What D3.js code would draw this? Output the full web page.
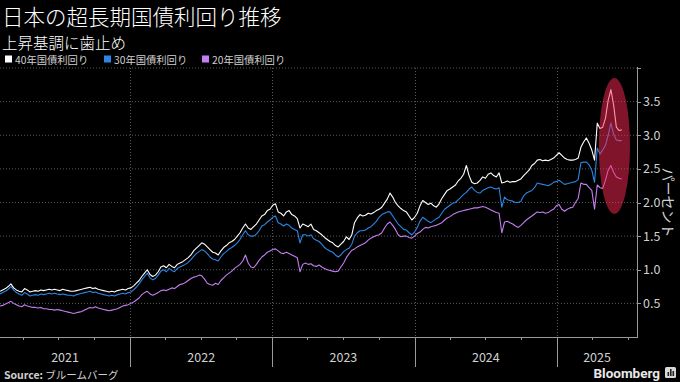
<!DOCTYPE html>
<html><head><meta charset="utf-8">
<script src="https://cdn.jsdelivr.net/npm/d3@7/dist/d3.min.js"></script>
<style>
body{margin:0;background:#000;}
svg{display:block;font-family:"Noto Sans CJK JP","Noto Sans",sans-serif;}
</style>
</head><body>
<svg id="chart" width="680" height="382"></svg>
<script>
// weekly observations starting 2021-02-01
const startDate = "2021-02-01";
const stepDays = 7;

const y40 = [
0.68,0.70,0.72,0.75,0.79,0.73,0.70,0.68,0.67,0.72,
0.70,0.67,0.68,0.69,0.68,0.70,0.69,0.70,0.71,0.70,
0.71,0.70,0.69,0.71,0.70,0.69,0.68,0.68,0.69,0.70,
0.71,0.72,0.73,0.74,0.72,0.73,0.71,0.70,0.69,0.68,
0.67,0.68,0.67,0.69,0.70,0.71,0.70,0.72,0.73,0.76,
0.80,0.84,0.90,0.95,1.00,0.93,0.90,0.92,0.97,1.04,
1.06,1.03,1.08,1.05,1.03,1.08,1.10,1.12,1.15,1.18,
1.22,1.28,1.32,1.36,1.40,1.38,1.34,1.30,1.26,1.25,
1.22,1.28,1.33,1.36,1.40,1.42,1.45,1.50,1.55,1.62,
1.68,1.62,1.60,1.64,1.68,1.74,1.80,1.82,1.88,1.90,
1.96,1.98,1.86,1.84,1.80,1.86,1.88,1.82,1.80,1.76,
1.62,1.68,1.66,1.64,1.68,1.60,1.58,1.55,1.52,1.48,
1.45,1.42,1.40,1.36,1.34,1.38,1.42,1.49,1.45,1.52,
1.70,1.77,1.82,1.80,1.81,1.84,1.83,1.85,1.88,1.90,
1.93,1.99,2.05,2.14,2.08,2.00,1.95,1.91,1.88,1.86,
1.80,1.74,1.78,1.84,1.95,2.03,2.00,1.97,1.99,1.95,
1.93,1.98,2.06,2.12,2.18,2.20,2.23,2.26,2.32,2.36,
2.42,2.55,2.40,2.30,2.28,2.29,2.33,2.38,2.36,2.42,
2.44,2.40,2.38,2.44,2.29,2.30,2.32,2.30,2.31,2.31,
2.33,2.35,2.40,2.44,2.48,2.55,2.58,2.63,2.64,2.62,
2.63,2.62,2.64,2.66,2.70,2.74,2.70,2.66,2.64,2.63,
2.63,2.64,2.66,2.82,2.90,2.96,2.88,2.78,2.63,3.18,
3.10,3.12,3.25,3.52,3.68,3.45,3.12,3.07,3.08
];

const y30 = [
0.64,0.66,0.68,0.71,0.75,0.70,0.66,0.64,0.62,0.66,
0.64,0.61,0.62,0.63,0.62,0.64,0.63,0.64,0.65,0.64,
0.65,0.64,0.63,0.64,0.63,0.62,0.62,0.61,0.63,0.64,
0.65,0.66,0.67,0.68,0.66,0.67,0.65,0.64,0.63,0.62,
0.61,0.62,0.61,0.63,0.64,0.65,0.64,0.66,0.67,0.70,
0.74,0.79,0.85,0.90,0.95,0.88,0.85,0.87,0.92,0.98,
1.00,0.97,1.02,0.99,0.97,1.02,1.04,1.06,1.08,1.11,
1.15,1.20,1.24,1.27,1.30,1.28,1.24,1.19,1.16,1.15,
1.13,1.19,1.24,1.27,1.31,1.33,1.36,1.40,1.45,1.52,
1.58,1.52,1.50,1.50,1.53,1.58,1.65,1.67,1.71,1.74,
1.78,1.80,1.70,1.68,1.65,1.68,1.66,1.62,1.60,1.58,
1.40,1.52,1.52,1.50,1.52,1.46,1.44,1.42,1.38,1.33,
1.30,1.28,1.26,1.22,1.19,1.22,1.27,1.30,1.32,1.38,
1.50,1.55,1.58,1.58,1.59,1.62,1.64,1.68,1.72,1.78,
1.82,1.84,1.86,1.86,1.80,1.74,1.68,1.64,1.60,1.59,
1.55,1.52,1.56,1.63,1.72,1.78,1.75,1.72,1.70,1.73,
1.76,1.78,1.84,1.90,1.93,1.96,1.99,2.00,2.04,2.08,
2.12,2.15,2.20,2.23,2.18,2.15,2.14,2.18,2.20,2.22,
2.23,2.21,2.20,2.22,1.93,2.08,2.04,2.03,2.02,2.00,
2.00,2.02,2.10,2.14,2.16,2.18,2.22,2.29,2.28,2.27,
2.26,2.25,2.27,2.30,2.31,2.33,2.30,2.27,2.28,2.29,
2.30,2.31,2.34,2.59,2.60,2.60,2.56,2.48,2.30,2.81,
2.72,2.78,2.85,3.00,3.18,3.02,2.93,2.92,2.92
];

const y20 = [
0.46,0.47,0.49,0.51,0.53,0.50,0.48,0.46,0.45,0.48,
0.46,0.45,0.44,0.44,0.43,0.44,0.42,0.42,0.41,0.41,
0.40,0.41,0.40,0.39,0.38,0.37,0.36,0.35,0.36,0.37,
0.38,0.40,0.42,0.44,0.43,0.45,0.43,0.42,0.41,0.40,
0.39,0.40,0.41,0.42,0.44,0.46,0.47,0.48,0.50,0.52,
0.55,0.58,0.63,0.66,0.68,0.64,0.62,0.64,0.66,0.69,
0.70,0.69,0.71,0.73,0.72,0.75,0.78,0.79,0.81,0.84,
0.87,0.89,0.90,0.92,0.91,0.86,0.80,0.78,0.77,0.80,
0.78,0.84,0.88,0.92,0.95,0.98,1.02,1.05,1.08,1.13,
1.22,1.10,1.04,1.03,1.08,1.14,1.19,1.22,1.26,1.28,
1.30,1.31,1.28,1.25,1.24,1.26,1.24,1.22,1.20,1.18,
0.97,1.08,1.10,1.08,1.09,1.06,1.05,1.07,1.04,1.02,
1.00,0.99,0.98,0.97,0.98,1.04,1.10,1.18,1.24,1.29,
1.31,1.34,1.36,1.38,1.40,1.44,1.47,1.49,1.51,1.52,
1.55,1.62,1.68,1.71,1.66,1.60,1.52,1.49,1.50,1.50,
1.48,1.47,1.50,1.54,1.56,1.60,1.63,1.62,1.64,1.65,
1.66,1.68,1.70,1.74,1.77,1.79,1.82,1.84,1.86,1.87,
1.88,1.89,1.90,1.91,1.92,1.92,1.93,1.94,1.93,1.91,
1.89,1.87,1.85,1.84,1.55,1.71,1.72,1.70,1.68,1.65,
1.63,1.66,1.70,1.74,1.77,1.80,1.83,1.86,1.85,1.86,
1.84,1.85,1.88,1.90,1.95,1.97,1.90,1.87,1.90,1.92,
1.93,2.00,2.06,2.29,2.27,2.27,2.22,2.18,1.90,2.26,
2.22,2.21,2.33,2.48,2.55,2.45,2.38,2.36,2.35
];

const seriesNames = ["40年国債利回り", "30年国債利回り", "20年国債利回り"];
const seriesColors = ["#ffffff", "#2b86e6", "#c47ef2"];
const yTicks = [0.5, 1.0, 1.5, 2.0, 2.5, 3.0, 3.5, 4.0];
const xDomain = ["2021-02-01", "2025-07-25"];
const titleText = "日本の超長期国債利回り推移";
const subtitleText = "上昇基調に歯止め";
const unitText = "パーセント";
const sourceLabel = "Source:";
const sourceText = " ブルームバーグ";
// highlight ellipse (annotation), in data terms
const highlightCenter = {date: "2025-05-28", value: 2.84};
const highlightHalf = {days: 40, value: 1.01};

const svg = d3.select("#chart");
const W = 680, H = 382;
svg.append("rect").attr("width", W).attr("height", H).attr("fill", "#000");

const plot = {left: 0, right: 637, top: 68, bottom: 337};
const parse = d3.timeParse("%Y-%m-%d");
const t0 = parse(startDate);
const dates = y40.map((_, i) => d3.timeDay.offset(t0, i * stepDays));

const x = d3.scaleTime().domain(xDomain.map(parse)).range([plot.left, plot.right]);
const y = d3.scaleLinear().domain([0, 4]).range([plot.bottom, plot.top]);

const txtCol = "#d0d0d0";

// titles
svg.append("text").attr("x", 2).attr("y", 24.6).attr("fill", "#fff")
  .attr("font-size", 21.5).attr("font-weight", 300).text(titleText);
svg.append("text").attr("x", 2).attr("y", 48.5).attr("fill", "#fff")
  .attr("font-size", 15.5).attr("font-weight", 300).text(subtitleText);

// legend
const legX = [5, 104, 202];
seriesNames.forEach((n, i) => {
  svg.append("rect").attr("x", legX[i]).attr("y", 55.5).attr("width", 7).attr("height", 7)
    .attr("fill", seriesColors[i]);
  svg.append("text").attr("x", legX[i] + 10).attr("y", 64).attr("fill", txtCol)
    .attr("font-size", 10.3).text(n);
});

// horizontal gridlines
svg.append("g").selectAll("line").data(yTicks).join("line")
  .attr("x1", plot.left).attr("x2", plot.right)
  .attr("y1", d => y(d)).attr("y2", d => y(d))
  .attr("stroke", "#5a5a5a").attr("stroke-width", 1).attr("stroke-dasharray", "1,2");

// vertical year gridlines
const years = d3.timeYear.range(x.domain()[0], x.domain()[1]).filter(d => d > x.domain()[0]);
svg.append("g").selectAll("line").data(years).join("line")
  .attr("x1", d => Math.round(x(d)) + 0.5).attr("x2", d => Math.round(x(d)) + 0.5)
  .attr("y1", plot.top).attr("y2", plot.bottom)
  .attr("stroke", "#5a5a5a").attr("stroke-width", 1).attr("stroke-dasharray", "1,2");

// lines
const series = [y20, y30, y40];
const cols = [seriesColors[2], seriesColors[1], seriesColors[0]];
series.forEach((s, k) => {
  const line = d3.line().x((d, i) => x(dates[i])).y(d => y(d));
  svg.append("path").datum(s).attr("d", line).attr("fill", "none")
    .attr("stroke", cols[k]).attr("stroke-width", 1.1).attr("stroke-linejoin", "round");
});

// highlight ellipse
const hc = parse(highlightCenter.date);
const ex = x(hc), ey = y(highlightCenter.value);
const erx = x(d3.timeDay.offset(hc, highlightHalf.days)) - ex;
const ery = y(highlightCenter.value - highlightHalf.value) - ey;
svg.append("ellipse").attr("cx", ex).attr("cy", ey).attr("rx", erx).attr("ry", ery)
  .attr("fill", "rgb(255,40,85)").attr("fill-opacity", 0.5);

// x axis
const axisCol = "#9a9a9a";
svg.append("line").attr("x1", plot.left).attr("x2", plot.right)
  .attr("y1", plot.bottom + 0.5).attr("y2", plot.bottom + 0.5).attr("stroke", axisCol);
const quarters = d3.timeMonth.every(3).range(x.domain()[0], x.domain()[1]);
svg.append("g").selectAll("line").data(quarters.filter(d => d.getMonth() !== 0)).join("line")
  .attr("x1", d => Math.round(x(d)) + 0.5).attr("x2", d => Math.round(x(d)) + 0.5)
  .attr("y1", plot.bottom).attr("y2", plot.bottom + 3).attr("stroke", axisCol);
svg.append("g").selectAll("line").data(years).join("line")
  .attr("x1", d => Math.round(x(d)) + 0.5).attr("x2", d => Math.round(x(d)) + 0.5)
  .attr("y1", plot.bottom).attr("y2", 367).attr("stroke", axisCol);
const yearStarts = d3.timeYear.range(d3.timeYear.floor(x.domain()[0]), x.domain()[1]);
svg.append("g").selectAll("text").data(yearStarts).join("text")
  .attr("x", d => {
    const a = Math.max(x(d), plot.left);
    const b = Math.min(x(d3.timeYear.offset(d, 1)), plot.right);
    return (a + b) / 2;
  })
  .attr("y", 362).attr("text-anchor", "middle").attr("fill", txtCol)
  .attr("font-size", 12.5).text(d => d3.timeFormat("%Y")(d));

// y axis (right)
svg.append("line").attr("x1", plot.right + 0.5).attr("x2", plot.right + 0.5)
  .attr("y1", plot.top - 1).attr("y2", plot.bottom + 1).attr("stroke", axisCol);
svg.append("g").selectAll("line").data(yTicks).join("line")
  .attr("x1", plot.right).attr("x2", plot.right + 4)
  .attr("y1", d => Math.round(y(d)) + 0.5).attr("y2", d => Math.round(y(d)) + 0.5)
  .attr("stroke", axisCol);
svg.append("g").selectAll("text").data(yTicks.filter(d => d < 4)).join("text")
  .attr("x", plot.right + 6).attr("y", d => y(d) + 4.5)
  .attr("fill", txtCol).attr("font-size", 12.5).text(d => d3.format(".1f")(d));
svg.append("text").attr("transform", `translate(663,${y(2.0)}) rotate(90)`)
  .attr("text-anchor", "middle").attr("fill", txtCol).attr("font-size", 14).text(unitText);

// source
const src = svg.append("text").attr("x", 4).attr("y", 379).attr("fill", txtCol).attr("font-size", 10.5);
src.append("tspan").attr("font-weight", "bold").text(sourceLabel);
src.append("tspan").text(sourceText);

// Bloomberg logo
svg.append("text").attr("x", 660).attr("y", 378).attr("text-anchor", "end")
  .attr("fill", "#e8e8e8").attr("font-size", 13.5).attr("font-weight", "bold")
  .attr("font-family", "Roboto, 'Noto Sans', sans-serif").text("Bloomberg");
svg.append("rect").attr("x", 665).attr("y", 367).attr("width", 11).attr("height", 11)
  .attr("rx", 1.5).attr("fill", "#d8d8d8");
[[667.5, 4], [670, 7], [672.5, 5]].forEach(([bx, bh]) => {
  svg.append("rect").attr("x", bx).attr("y", 376 - bh).attr("width", 1.6).attr("height", bh).attr("fill", "#222");
});
</script>
</body></html>
